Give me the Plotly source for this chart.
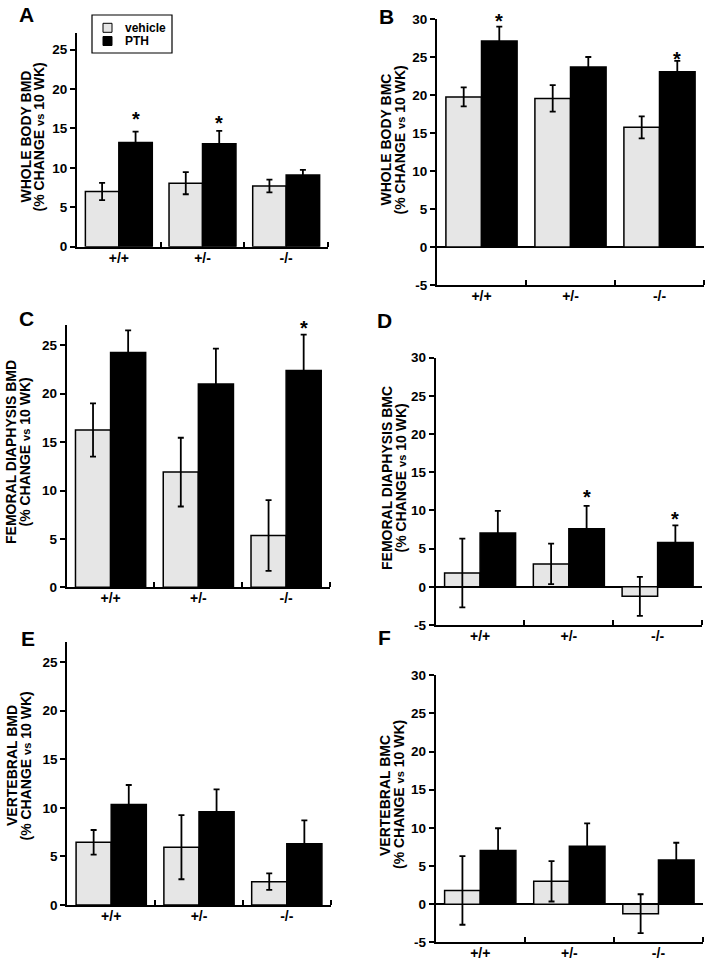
import plotly.graph_objects as go

W, H = 708, 961

# ---------------- data ----------------
genotypes = ["+/+", "+/-", "-/-"]
series_names = ["vehicle", "PTH"]

# A: whole body BMD
a_vehicle = [7.0, 8.05, 7.7]
a_vehicle_err = [1.1, 1.4, 0.8]
a_pth = [13.2, 13.05, 9.1]
a_pth_err = [1.4, 1.65, 0.65]
a_star_idx = [0, 1]

# B: whole body BMC
b_vehicle = [19.75, 19.55, 15.75]
b_vehicle_err = [1.25, 1.75, 1.45]
b_pth = [27.1, 23.7, 23.05]
b_pth_err = [1.9, 1.3, 1.45]
b_star_idx = [0, 2]

# C: femoral diaphysis BMD
c_vehicle = [16.25, 11.9, 5.35]
c_vehicle_err = [2.75, 3.55, 3.65]
c_pth = [24.25, 21.0, 22.4]
c_pth_err = [2.3, 3.65, 3.7]
c_star_idx = [2]

# D: femoral diaphysis BMC
d_vehicle = [1.8, 3.0, -1.25]
d_vehicle_err = [4.5, 2.65, 2.55]
d_pth = [7.05, 7.6, 5.8]
d_pth_err = [2.9, 3.0, 2.25]
d_star_idx = [1, 2]

# E: vertebral BMD
e_vehicle = [6.45, 5.95, 2.4]
e_vehicle_err = [1.27, 3.3, 0.85]
e_pth = [10.35, 9.6, 6.3]
e_pth_err = [2.0, 2.3, 2.4]
e_star_idx = []

# F: vertebral BMC
f_vehicle = [1.8, 3.0, -1.25]
f_vehicle_err = [4.5, 2.65, 2.55]
f_pth = [7.05, 7.6, 5.8]
f_pth_err = [2.9, 3.0, 2.25]
f_star_idx = []

bmd_ticks = [0, 5, 10, 15, 20, 25]
bmc_ticks = [-5, 0, 5, 10, 15, 20, 25, 30]
bmd_range = [0, 27.1]
bmc_range = [-5, 30]

# ---------------- styling / layout ----------------
FONT = "Liberation Sans, Arial, sans-serif"
GRAY = "#e6e6e6"
BARGAP = 0.2


def px_x(p):
    return p / W


def px_y(p):
    return 1 - p / H


def b(s):
    return f"<b>{s}</b>"


panels = [
    dict(letter="A", t1="WHOLE BODY BMD", veh=a_vehicle, vehe=a_vehicle_err, pth=a_pth, pthe=a_pth_err,
         sidx=a_star_idx, sgap=[16.7, 11.7], rng=bmd_range, ticks=bmd_ticks,
         box=(77, 328, 33, 246.7), letter_pos=(26, 14.5), title_x=(25.5, 38.5), title_y=137),
    dict(letter="B", t1="WHOLE BODY BMC", veh=b_vehicle, vehe=b_vehicle_err, pth=b_pth, pthe=b_pth_err,
         sidx=b_star_idx, sgap=[9.5, 5.7], rng=bmc_range, ticks=bmc_ticks,
         box=(437, 704, 19, 285), letter_pos=(386, 16.5), title_x=(385.5, 399.5), title_y=140),
    dict(letter="C", t1="FEMORAL DIAPHYSIS BMD", veh=c_vehicle, vehe=c_vehicle_err, pth=c_pth, pthe=c_pth_err,
         sidx=c_star_idx, sgap=[11], rng=bmd_range, ticks=bmd_ticks,
         box=(66.7, 330, 325, 587.3), letter_pos=(26.5, 318.5), title_x=(11, 24.5), title_y=452),
    dict(letter="D", t1="FEMORAL DIAPHYSIS BMC", veh=d_vehicle, vehe=d_vehicle_err, pth=d_pth, pthe=d_pth_err,
         sidx=d_star_idx, sgap=[12.7, 10.7], rng=bmc_range, ticks=bmc_ticks,
         box=(435.7, 702, 357.7, 625), letter_pos=(384, 320.5), title_x=(387, 400.5), title_y=478),
    dict(letter="E", t1="VERTEBRAL BMD", veh=e_vehicle, vehe=e_vehicle_err, pth=e_pth, pthe=e_pth_err,
         sidx=e_star_idx, sgap=[], rng=bmd_range, ticks=bmd_ticks,
         box=(67.3, 330.7, 641.7, 905), letter_pos=(28, 638.5), title_x=(12, 25.5), title_y=766),
    dict(letter="F", t1="VERTEBRAL BMC", veh=f_vehicle, vehe=f_vehicle_err, pth=f_pth, pthe=f_pth_err,
         sidx=f_star_idx, sgap=[], rng=bmc_range, ticks=bmc_ticks,
         box=(435.7, 703, 675.3, 942.3), letter_pos=(385, 637.5), title_x=(385, 399), title_y=795),
]

fig = go.Figure()
annotations = []
shapes = []
xpos = list(range(len(genotypes)))
half_bar = (1 - BARGAP) / 4  # offset of each bar centre from category centre

for i, p in enumerate(panels, start=1):
    xa = "x" if i == 1 else f"x{i}"
    ya = "y" if i == 1 else f"y{i}"
    for name, vals, errs, color in [(series_names[0], p["veh"], p["vehe"], GRAY),
                                    (series_names[1], p["pth"], p["pthe"], "black")]:
        fig.add_trace(go.Bar(
            x=xpos, y=vals, name=name, xaxis=xa, yaxis=ya, showlegend=False,
            offsetgroup=name,
            marker=dict(color=color, line=dict(color="black", width=1.5)),
            error_y=dict(type="data", array=errs, visible=True, color="black", thickness=1.8, width=3),
        ))
    x0, x1, y0, y1 = p["box"]
    bmc = p["rng"][0] < 0
    fig.layout[f"xaxis{'' if i == 1 else i}"] = dict(
        domain=[px_x(x0), px_x(x1)], anchor=ya, range=[-0.5, len(genotypes) - 0.5],
        tickvals=xpos, ticktext=[b(g) for g in genotypes], ticks="", showline=True,
        linecolor="black", linewidth=2, showgrid=False, zeroline=False, fixedrange=True,
        automargin=False, ticklabelstandoff=-3,
        tickfont=dict(family=FONT, size=14, color="black"),
        minor=dict(tickmode="array", tickvals=[0.5, 1.5, 2.5], ticks="inside", ticklen=5,
                   tickwidth=1.5, tickcolor="black", showgrid=False),
    )
    fig.layout[f"yaxis{'' if i == 1 else i}"] = dict(
        domain=[px_y(y1), px_y(y0)], anchor=xa, range=p["rng"], tickvals=p["ticks"],
        ticktext=[b(t) for t in p["ticks"]],
        ticks="outside", ticklen=5, tickwidth=1.5, tickcolor="black",
        showline=True, linecolor="black", linewidth=2, showgrid=False,
        zeroline=bmc, zerolinecolor="black", zerolinewidth=2, fixedrange=True,
        automargin=False,
        tickfont=dict(family=FONT, size=13.5, color="black"),
    )
    # panel letter
    lx, ly = p["letter_pos"]
    annotations.append(dict(text=b(p["letter"]), xref="paper", yref="paper", x=px_x(lx), y=px_y(ly),
                            xanchor="center", yanchor="middle", showarrow=False,
                            font=dict(family=FONT, size=21, color="black")))
    # y titles (two lines)
    tx1, tx2 = p["title_x"]
    annotations.append(dict(text=b(p["t1"]), xref="paper", yref="paper", x=px_x(tx1), y=px_y(p["title_y"]),
                            xanchor="center", yanchor="middle", textangle=-90, showarrow=False,
                            font=dict(family=FONT, size=14, color="black")))
    annotations.append(dict(text=b("(% CHANGE <span style='font-size:11px'>vs</span> 10 WK)"),
                            xref="paper", yref="paper", x=px_x(tx2), y=px_y(p["title_y"]),
                            xanchor="center", yanchor="middle", textangle=-90, showarrow=False,
                            font=dict(family=FONT, size=14, color="black")))
    # significance stars over PTH bars (anchored at top of error bar)
    for idx, gap in zip(p["sidx"], p["sgap"]):
        annotations.append(dict(text=b("*"), xref=xa, yref=ya, x=idx + half_bar,
                                y=p["pth"][idx] + p["pthe"][idx],
                                xanchor="center", yanchor="middle", yshift=gap - 4, showarrow=False,
                                font=dict(family=FONT, size=20, color="black")))

# legend box (drawn in panel A)
shapes.append(dict(type="rect", xref="paper", yref="paper", x0=px_x(92), x1=px_x(172),
                   y0=px_y(53), y1=px_y(15), line=dict(color="black", width=1.2), fillcolor="white"))
for name, color, cy in [(series_names[0], GRAY, 27.8), (series_names[1], "black", 41)]:
    shapes.append(dict(type="rect", xref="paper", yref="paper", x0=px_x(103), x1=px_x(112),
                       y0=px_y(cy + 4.5), y1=px_y(cy - 4.5), line=dict(color="black", width=1), fillcolor=color))
    annotations.append(dict(text=b(name), xref="paper", yref="paper", x=px_x(123), y=px_y(cy),
                            xanchor="left", yanchor="middle", showarrow=False,
                            font=dict(family=FONT, size=12, color="black")))

fig.update_layout(
    width=W, height=H, margin=dict(l=0, r=0, t=0, b=0, pad=0, autoexpand=False),
    paper_bgcolor="white", plot_bgcolor="white",
    barmode="group", bargap=BARGAP, bargroupgap=0,
    showlegend=False, annotations=annotations, shapes=shapes,
    font=dict(family=FONT, color="black"),
)

page_fix = (
    "document.documentElement.style.margin='0';"
    "document.documentElement.style.overflow='hidden';"
    "document.body.style.margin='0';"
    "document.body.style.overflow='hidden';"
)

fig.write_html("out.html", config={"displayModeBar": False}, post_script=page_fix)
